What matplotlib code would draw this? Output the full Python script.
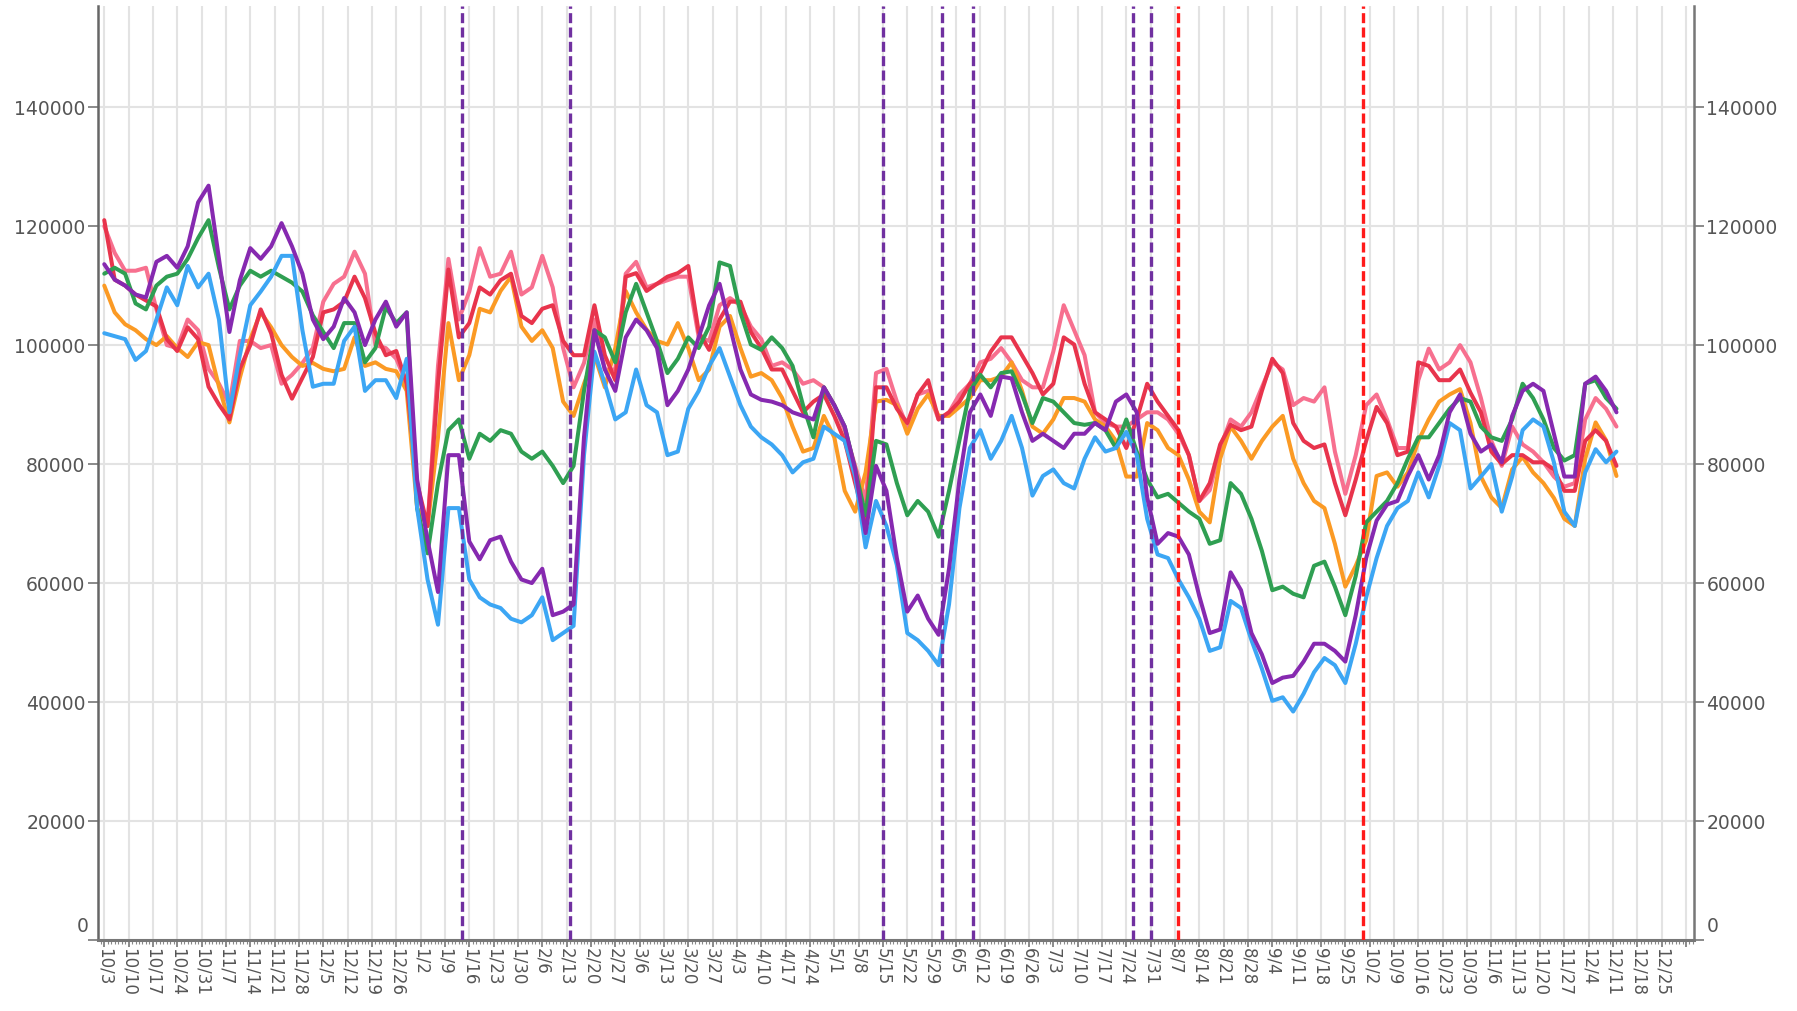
import numpy as np
import pandas as pd
import matplotlib
matplotlib.use("Agg")
import matplotlib.pyplot as plt
import matplotlib.dates as mdates

# one reading every 3 days, 2021-10-03 .. 2022-12-12, values in thousands
fechas = pd.date_range("2021-10-03", periods=146, freq="3D")

rosa = [120, 115.5, 112.5, 112.5, 113, 106, 100, 99.5, 104.3, 102.5, 96, 93.5, 90, 100.7, 100.7, 99.5, 100, 93.5, 95, 97, 99.5,
        107.3, 110.3, 111.5, 115.7, 112, 100, 99.5, 97.7, 93.5, 75.5, 69.6, 96.5, 114.5, 104.3, 109, 116.3, 111.5, 112, 115.7, 108.5, 109.7,
        115, 109.7, 99.5, 92.9, 97, 104.3, 95.9, 95.9, 112, 114, 109.7, 110.3, 110.9, 111.5, 111.5, 101.3, 100.7, 106.7, 107.9, 106.7, 103.1,
        101, 96.5, 97.1, 95.9, 93.5, 94.1, 92.9, 89.9, 85.7, 79.7, 73.8, 95.3, 96, 90.5, 86.3, 91.7, 92.3, 87.5, 88.7, 91.7, 93.5,
        97.1, 97.7, 99.5, 97.1, 94.1, 92.9, 92.9, 98.9, 106.7, 102.5, 98.3, 88.7, 86.9, 86.3, 86.3, 87.5, 88.7, 88.7, 87.5, 85.1, 81.5,
        73.8, 75.6, 82.7, 87.5, 86.3, 88.7, 92.9, 97.1, 95.9, 89.9, 91.1, 90.5, 92.9, 82.1, 75, 81.5, 89.9, 91.7, 87.5, 82.7, 82.7, 94.1,
        99.4, 95.9, 97.1, 100, 97.1, 91.1, 83.9, 79.7, 86.3, 83.3, 82.1, 80.3, 77.9, 76.2, 76.8, 87.5, 91.1, 89.3, 86.3]

rojo = [121, 111, 110, 108.5, 107.5, 106.5, 101, 99, 103, 101, 93, 90, 87.5, 96, 100, 106, 102, 95, 91, 94.5, 98,
        105.5, 106, 107.3, 111.5, 107.9, 102, 98.3, 99, 93.5, 76.8, 69.6, 93.5, 112.7, 101.3, 103.7, 109.7, 108.5, 110.9, 112, 104.9, 103.7,
        106.1, 106.7, 100.7, 98.3, 98.3, 106.7, 98.3, 94.1, 111.5, 112.1, 109.1, 110.3, 111.5, 112.1, 113.3, 102.2, 99.2, 104.3, 107.3, 107.3, 102.2,
        99.5, 95.9, 95.9, 92.3, 88.7, 90.5, 91.7, 88.1, 83.9, 76.8, 70.2, 92.9, 92.9, 89.3, 86.9, 91.7, 94.1, 87.5, 88.7, 90.5, 93.5,
        95.3, 98.9, 101.3, 101.3, 98.3, 95.3, 91.7, 93.5, 101.3, 100.1, 93.5, 88.7, 87.5, 86.3, 82.7, 87.5, 93.5, 90.5, 88.1, 85.7, 81.5,
        73.8, 76.8, 83.3, 86.6, 85.7, 86.3, 92.3, 97.7, 95.3, 86.9, 83.9, 82.7, 83.3, 76.8, 71.4, 77.4, 83.9, 89.6, 86.9, 81.5, 82.1, 97.1,
        96.5, 94.1, 94.1, 95.9, 92, 88.7, 82.1, 80, 81.5, 81.5, 80.3, 80.3, 79.1, 75.5, 75.5, 83.9, 85.7, 83.9, 79.7]

naranja = [110, 105.5, 103.5, 102.5, 101, 100, 101.5, 99.5, 98, 100.5, 100, 93, 87, 94.5, 101, 105.5, 103, 100, 98, 96.5, 97,
           96, 95.6, 96, 101.3, 96.5, 97.1, 96, 95.6, 92.3, 72.6, 69.6, 84.5, 103.7, 94.1, 98.3, 106.1, 105.5, 109.1, 111.5, 103.1, 100.7,
           102.5, 99.5, 90.5, 88.1, 93.5, 98.3, 92.9, 99.5, 109.1, 105.5, 102.6, 100.7, 100.1, 103.7, 99.5, 94.1, 95.9, 103.1, 104.9, 99.5, 94.7,
           95.3, 94.1, 91.1, 86.3, 82.1, 82.7, 88.1, 84.5, 75.5, 72, 78.6, 90.5, 90.8, 89.9, 85.1, 89.3, 91.7, 88.1, 88.1, 89.6, 91.1,
           94.1, 94.1, 94.7, 97.1, 92.3, 86.3, 85.1, 87.5, 91.1, 91.1, 90.5, 87.5, 86.3, 83.9, 77.9, 77.9, 86.9, 85.7, 82.7, 81.5, 77.4,
           72, 70.2, 80.9, 86.3, 83.9, 80.9, 83.9, 86.3, 88.1, 80.9, 76.8, 73.8, 72.6, 66.6, 59.4, 62.9, 67.2, 78, 78.6, 76.2, 78.6, 83.9,
           87.5, 90.5, 91.7, 92.6, 86.9, 77.9, 74.4, 72.6, 79.1, 81.2, 78.6, 76.8, 74.3, 70.8, 69.6, 80.9, 87, 84, 78]

verde = [112, 113, 112, 107, 106, 110, 111.5, 112, 114.5, 118, 121, 113, 106, 110, 112.5, 111.5, 112.5, 111.5, 110.5, 109, 105,
         102.2, 99.5, 103.7, 103.7, 97.1, 99.5, 106.4, 103.7, 105.5, 72.6, 65, 76.8, 85.7, 87.5, 80.9, 85.1, 83.9, 85.7, 85.1, 82.1, 80.9,
         82.1, 79.7, 76.8, 79.7, 92.3, 102.5, 101.3, 97.1, 105.5, 110.3, 105.5, 100.7, 95.3, 97.7, 101.3, 99.5, 103.1, 113.9, 113.3, 105.5, 100.1,
         99.2, 101.3, 99.5, 96.5, 89.9, 84.5, 92.9, 89.9, 86.3, 79.1, 71.4, 83.9, 83.3, 76.8, 71.4, 73.8, 72, 67.8, 75.5, 84, 92.3,
         95, 92.9, 95.3, 95.6, 91.7, 86.9, 91.1, 90.5, 88.7, 86.9, 86.6, 86.9, 85.7, 82.7, 87.5, 82.1, 77.4, 74.4, 75, 73.5, 72,
         70.8, 66.6, 67.2, 76.8, 75, 70.8, 65.4, 58.8, 59.4, 58.2, 57.6, 62.9, 63.6, 59.4, 54.6, 61.2, 70.2, 72, 73.8, 76.8, 80.9, 84.5,
         84.5, 86.9, 89.3, 91.1, 90.5, 86.3, 84.5, 83.9, 87.5, 93.5, 91.1, 87.5, 82.7, 80.6, 81.5, 93.5, 94.1, 91.1, 89.3]

morado = [113.6, 111, 110, 108.5, 108, 114, 115, 113, 116.6, 124, 126.8, 114.5, 102.2, 110.9, 116.3, 114.5, 116.6, 120.5, 116.6, 112, 104.3,
          101, 103.1, 107.9, 105.5, 100, 104.3, 107.3, 103.1, 105.5, 77.4, 67.2, 58.5, 81.5, 81.5, 67, 64, 67.2, 67.8, 63.6, 60.6, 60,
          62.4, 54.6, 55.2, 56.4, 84.5, 102.5, 95.9, 92.3, 101.3, 104.3, 102.5, 99.5, 89.9, 92.3, 95.9, 101.3, 106.7, 110.3, 103.1, 95.9, 91.7,
          90.8, 90.5, 89.9, 88.7, 88.1, 87.5, 92.9, 89.9, 86.3, 79.1, 68.4, 79.7, 75.5, 64.2, 55.2, 57.9, 54, 51.3, 62.4, 77.4, 88.7,
          91.7, 88.1, 94.7, 94.4, 88.7, 83.9, 85.1, 83.9, 82.7, 85.1, 85.1, 86.9, 85.7, 90.5, 91.7, 88.7, 74.4, 66.6, 68.4, 67.8, 64.8,
          57.8, 51.6, 52.2, 61.8, 58.8, 51.6, 48, 43.2, 44.1, 44.4, 46.8, 49.8, 49.8, 48.6, 46.8, 54.6, 64.2, 70.5, 73.2, 73.8, 78, 81.5,
          77.4, 81.5, 88.7, 91.7, 85.1, 82.1, 83.3, 80.3, 88.1, 92.3, 93.5, 92.3, 85.1, 77.9, 77.9, 93.5, 94.7, 92.3, 88.7]

azul = [102, 101.5, 101, 97.5, 99, 104.3, 109.7, 106.7, 113.3, 109.7, 112, 104.3, 88.7, 98.3, 106.7, 109, 111.5, 115, 115, 102.5, 93,
        93.5, 93.5, 100.7, 103.1, 92.3, 94.1, 94.1, 91.1, 97.7, 72.6, 60.6, 53, 72.6, 72.6, 60.6, 57.6, 56.4, 55.8, 54, 53.4, 54.6,
        57.6, 50.4, 51.6, 52.8, 81.5, 98.9, 93.5, 87.5, 88.7, 95.9, 89.9, 88.7, 81.5, 82.1, 89.3, 92.3, 96.5, 99.5, 94.7, 89.9, 86.3,
        84.5, 83.3, 81.5, 78.6, 80.3, 80.9, 86.3, 85.1, 83.9, 78, 66, 73.8, 69.6, 63, 51.6, 50.4, 48.6, 46.2, 56.4, 72.6, 82.7,
        85.7, 80.9, 83.9, 88.1, 82.7, 74.7, 78, 79.1, 76.8, 75.9, 80.9, 84.5, 82.1, 82.7, 85.4, 81.5, 70.8, 64.8, 64.2, 60.6, 57.6,
        54, 48.6, 49.2, 57, 55.8, 50.4, 45.6, 40.2, 40.8, 38.4, 41.4, 45, 47.4, 46.2, 43.2, 49.8, 57.6, 64.2, 69.6, 72.6, 73.8, 78.6,
        74.4, 79.7, 86.9, 85.7, 75.9, 77.9, 80, 72, 77.9, 85.7, 87.5, 86.3, 80.3, 72, 69.6, 78.6, 82.5, 80.3, 82.1]

lineas_moradas = ["2022-01-14", "2022-02-14", "2022-05-15", "2022-06-01", "2022-06-10", "2022-07-26", "2022-07-31"]
lineas_rojas = ["2022-08-08", "2022-09-30"]

series = [(rosa, "#f7708f"), (naranja, "#fb9a24"), (rojo, "#e8344c"),
          (verde, "#2f9f52"), (azul, "#3ca6f4"), (morado, "#8629b0")]

fig = plt.figure(figsize=(17.97, 10.11), dpi=100)
ax = fig.add_axes([98 / 1797, 1 - 940 / 1011, (1694 - 98) / 1797, (940 - 6) / 1011])

for valores, color in series:
    ax.plot(fechas, np.array(valores) * 1000, color=color, lw=2.9,
            solid_joinstyle="round", solid_capstyle="round", zorder=3)

for d in lineas_moradas:
    ax.axvline(pd.Timestamp(d), color="#7030a0", lw=2.4, dashes=(3.0, 1.3), zorder=4)
for d in lineas_rojas:
    ax.axvline(pd.Timestamp(d), color="#ff1a1a", lw=2.4, dashes=(3.0, 1.3), zorder=4)

# ejes
inicio = pd.Timestamp("2021-10-03")
ax.set_xlim(inicio - pd.Timedelta(days=1.8), inicio + pd.Timedelta(days=457.3))
ax.set_ylim(0, 157000)

semanas = pd.date_range("2021-10-03", "2023-01-01", freq="7D")
ax.set_xticks(semanas)
ax.set_xticklabels([f"{d.month}/{d.day}" if d.year < 2023 else "" for d in semanas],
                   rotation=-90, ha="center", va="top", fontsize=12, color="#555555")
ax.xaxis.set_minor_locator(mdates.DayLocator())

yt = np.arange(0, 140001, 20000)
ax.set_yticks(yt)
ax.set_yticklabels(["" if v == 0 else str(v) for v in yt], fontsize=13.5, color="#555555")
ax.tick_params(axis="y", which="both", left=True, right=True, labelleft=True, labelright=True,
               length=7, width=1.2, color="#777777", pad=2)
ax.tick_params(axis="x", which="major", length=5, width=1.2, color="#777777", pad=1)
ax.tick_params(axis="x", which="minor", length=3, width=0.8, color="#888888")

# the zero label sits a bit above its gridline
ax.annotate("0", xy=(0, 0), xycoords="axes fraction", xytext=(-9, 14), textcoords="offset pixels",
            ha="right", va="center", fontsize=13.5, color="#555555")
ax.annotate("0", xy=(1, 0), xycoords="axes fraction", xytext=(13, 14), textcoords="offset pixels",
            ha="left", va="center", fontsize=13.5, color="#555555")

ax.grid(True, which="major", color="#e3e3e3", lw=1.5, zorder=0)
ax.set_axisbelow(True)

ax.spines["top"].set_visible(False)
ax.spines["left"].set_color("#666666")
ax.spines["left"].set_linewidth(1.8)
ax.spines["right"].set_color("#777777")
ax.spines["right"].set_linewidth(1.8)
ax.spines["bottom"].set_color("#777777")
ax.spines["bottom"].set_linewidth(2.2)

fig.savefig("out.png", dpi=100, facecolor="white")
